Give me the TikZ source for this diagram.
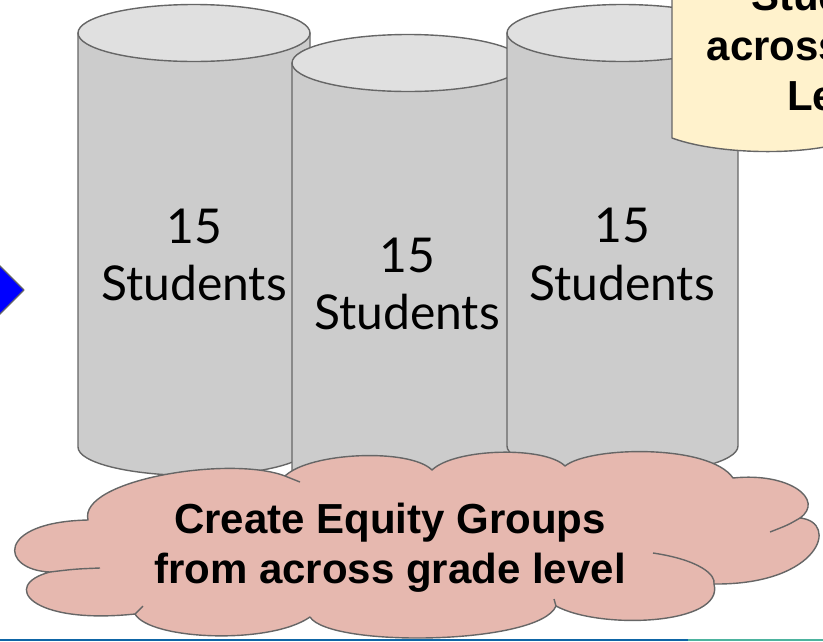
\documentclass[tikz,border=0pt]{standalone}
\usepackage{fontspec}
\setmainfont{Liberation Sans}
\newfontfamily\latofont{Lato}
\definecolor{cylside}{HTML}{CCCCCC}
\definecolor{cyltop}{HTML}{E0E0E0}
\definecolor{edgegray}{HTML}{666666}
\definecolor{cloudpink}{HTML}{E6B8AF}
\definecolor{notefill}{HTML}{FFF2CC}
\definecolor{arrowblue}{HTML}{0000FF}
\definecolor{lineblue}{HTML}{0E65A6}
\definecolor{lineteal}{HTML}{4DB39E}
\tikzset{
  edge/.style={draw=edgegray, line width=1.4pt, line join=round},
  cylbody/.style={edge, fill=cylside},
  cyltopface/.style={edge, fill=cyltop},
  cyltext/.style={font=\latofont\fontsize{48}{57}\selectfont, inner sep=0pt, anchor=base},
  cloudbody/.style={edge, fill=cloudpink},
  cloudtext/.style={font=\fontsize{42}{50}\selectfont\bfseries, inner sep=0pt, anchor=base},
  notebody/.style={edge, fill=notefill},
  pointer/.style={edge, fill=arrowblue}
}
\begin{document}
\begin{tikzpicture}[x=1pt, y=1pt, yscale=-1]
\useasboundingbox (0,0) rectangle (823,641);
\clip (0,0) rectangle (823,641);
% blue arrow tip
\path[pointer] (-12,254) -- (24,290) -- (-12,326) -- cycle;
% cylinder 1
\path[cylbody] (78,33) -- (78,447) arc[start angle=180, end angle=0, x radius=116, y radius=28.5] -- (310,33) -- cycle;
\path[cyltopface] (194,33) ellipse[x radius=116, y radius=28.5];
\node[cyltext] (c1a) at (194,243) {15};
\node[cyltext] (c1b) at (194,300) {Students};
% cylinder 2
\path[cylbody] (292,63) -- (292,477) arc[start angle=180, end angle=0, x radius=116, y radius=28.5] -- (524,63) -- cycle;
\path[cyltopface] (408,63) ellipse[x radius=116, y radius=28.5];
\node[cyltext] (c2a) at (407,272) {15};
\node[cyltext] (c2b) at (407,329) {Students};
% cylinder 3
\path[cylbody] (507,33) -- (507,446) arc[start angle=180, end angle=0, x radius=115.5, y radius=28.5] -- (738,33) -- cycle;
\path[cyltopface] (622.5,33) ellipse[x radius=115.5, y radius=28.5];
\node[cyltext] (c3a) at (622,242) {15};
\node[cyltext] (c3b) at (622,300) {Students};
% note
\path[notebody] (672,-10) -- (672,138) .. controls (710,152) and (780,156) .. (830,146) -- (830,-10) -- cycle;
\node[cloudtext] (n1) at (841,10) {Students};
\node[cloudtext] (n2) at (841,60) {across Grade};
\node[cloudtext] (n3) at (841,110) {Level};
% cloud
\path[cloudbody] (88,520)
  .. controls (78,480) and (230,455) .. (285,476)
  .. controls (310,452) and (410,448) .. (432,470)
  .. controls (455,448) and (545,446) .. (565,466)
  .. controls (590,446) and (710,444) .. (733,478)
  .. controls (790,472) and (825,500) .. (800,518)
  .. controls (840,522) and (820,585) .. (714,584)
  .. controls (725,625) and (600,630) .. (556,606)
  .. controls (540,645) and (330,648) .. (310,617)
  .. controls (270,645) and (150,640) .. (135,614)
  .. controls (30,625) and (0,585) .. (50,572)
  .. controls (0,570) and (-5,522) .. (88,520) -- cycle;
\draw[edge] (285,476) -- (300,482);
\draw[edge] (800,518) .. controls (788,525) .. (770,532);
\draw[edge] (653,553) .. controls (700,560) and (716,575) .. (714,584);
\draw[edge] (50,572) .. controls (75,569) .. (100,568);
\draw[edge] (135,614) -- (143,606);
\draw[edge] (556,606) -- (554,599);
\node[cloudtext] (t1) at (390,533) {Create Equity Groups};
\node[cloudtext] (t2) at (390,583) {from across grade level};
% bottom rule
\fill[lineblue] (0,638.5) rectangle (688,641);
\fill[lineteal] (688,638.5) rectangle (823,641);
\end{tikzpicture}
\end{document}
